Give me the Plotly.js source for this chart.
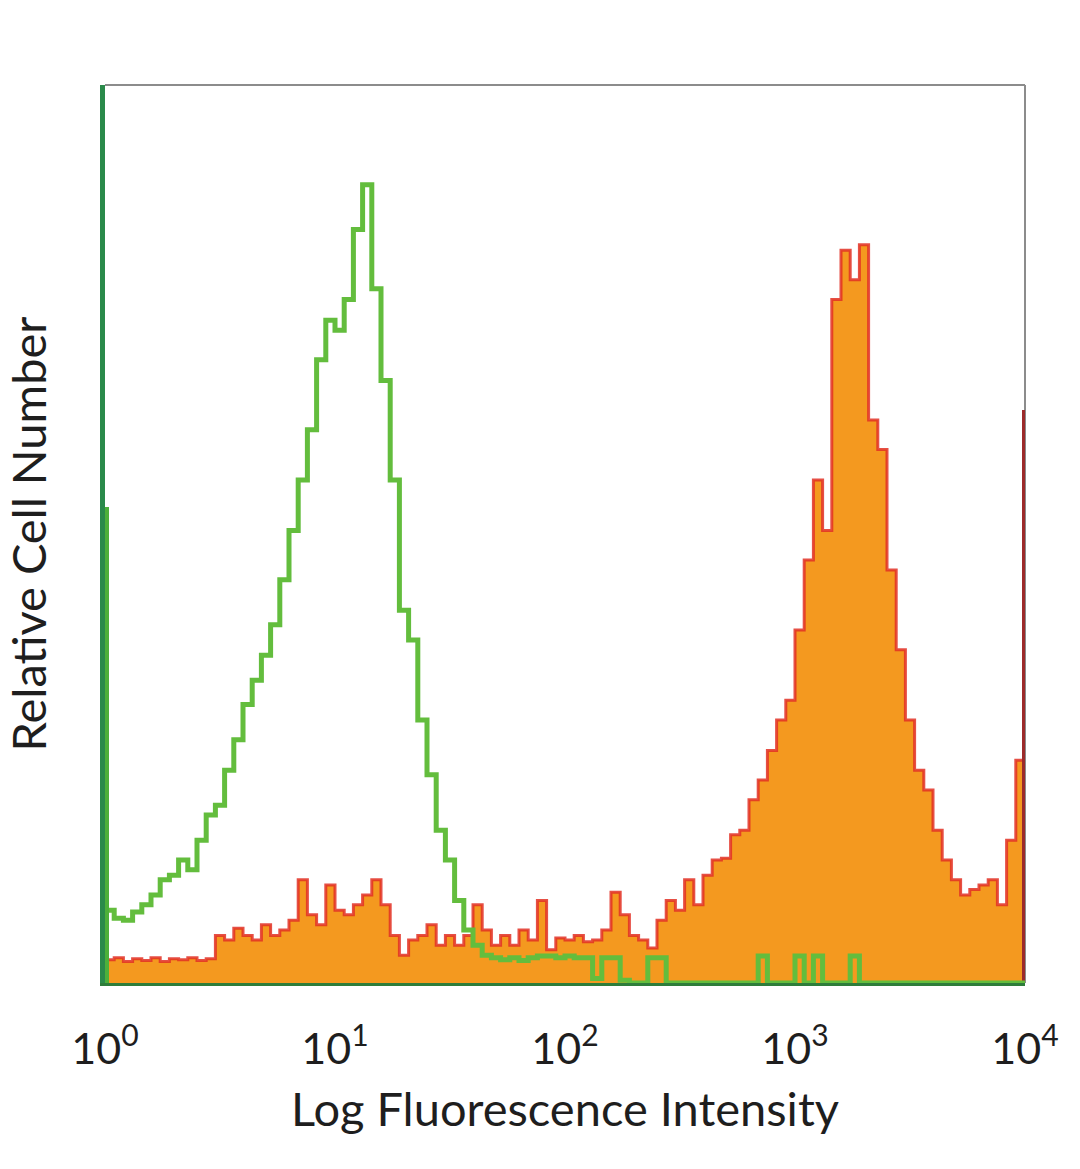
<!DOCTYPE html>
<html>
<head>
<meta charset="utf-8">
<script src="https://cdn.plot.ly/plotly-3.0.1.min.js"></script>
<style>
html,body{margin:0;padding:0;background:#fff;}
#chart{width:1080px;height:1169px;}
</style>
</head>
<body>
<div id="chart"></div>
<script>
// Histogram channels: 100 bins spread evenly over log10 intensity 0..4
const BIN_COUNT = 100;
const LOG_MIN = 0, LOG_MAX = 4;

// Isotype control (green outline), relative cell number per bin
const greenCounts = [
  8.1, 7.2, 7.0, 7.9, 8.7, 9.8, 11.5, 12.0, 13.7, 12.6,
  15.9, 18.7, 19.8, 23.7, 27.1, 31.0, 33.7, 36.5, 39.9, 44.9,
  50.4, 56.0, 61.6, 69.4, 73.8, 72.7, 76.1, 83.9, 88.9, 77.3,
  67.1, 56.0, 41.5, 38.2, 29.3, 23.2, 17.0, 13.7, 9.2, 5.9,
  4.2, 3.1, 2.8, 2.6, 2.8, 2.5, 2.8, 3.0, 3.0, 2.8,
  3.0, 2.8, 2.8, 0.5, 2.8, 2.8, 0.3, 0, 0, 2.8,
  2.8, 0, 0, 0, 0, 0, 0, 0, 0, 0,
  0, 3.0, 0, 0, 0, 3.0, 0, 3.0, 0, 0,
  0, 3.0, 0, 0, 0, 0, 0, 0, 0, 0,
  0, 0, 0, 0, 0, 0, 0, 0, 0, 0
];

// Stained sample (orange fill, red outline), relative cell number per bin
const stainedCounts = [
  2.6, 2.8, 2.4, 2.7, 2.5, 2.8, 2.4, 2.7, 2.6, 2.8,
  2.5, 2.7, 5.3, 4.8, 6.1, 5.3, 4.8, 6.5, 5.3, 5.9,
  7.0, 11.5, 7.6, 6.5, 10.9, 8.1, 7.6, 8.7, 9.8, 11.5,
  8.7, 5.3, 3.1, 4.8, 5.3, 6.5, 4.2, 5.3, 4.2, 5.3,
  8.7, 5.9, 4.2, 5.3, 4.2, 5.9, 4.8, 9.2, 3.7, 5.0,
  4.8, 5.3, 4.6, 4.8, 5.9, 10.1, 7.6, 5.3, 4.8, 3.9,
  7.0, 9.2, 8.1, 11.5, 8.7, 12.0, 13.7, 13.9, 16.5, 17.0,
  20.4, 22.6, 25.9, 29.3, 31.5, 39.3, 47.1, 56.0, 50.4, 76.1,
  81.6, 78.3, 82.2, 62.7, 59.4, 46.0, 37.1, 29.3, 23.7, 21.5,
  17.0, 13.7, 11.5, 9.8, 10.4, 10.9, 11.5, 8.7, 15.9, 24.8
];

// Events piled up at the scale limits
const greenOffScaleLow = 53;      // at 10^0
const stainedOffScaleHigh = 63.8; // at 10^4

const tickVals = [1, 10, 100, 1000, 10000];
const tickText = ['10<sup>0</sup>', '10<sup>1</sup>', '10<sup>2</sup>', '10<sup>3</sup>', '10<sup>4</sup>'];
const xTitle = 'Log Fluorescence Intensity';
const yTitle = 'Relative Cell Number';

function stepXY(counts) {
  const step = (LOG_MAX - LOG_MIN) / counts.length;
  const xs = [], ys = [];
  counts.forEach((c, i) => { xs.push(Math.pow(10, LOG_MIN + i * step)); ys.push(c); });
  xs.push(Math.pow(10, LOG_MAX));
  ys.push(counts[counts.length - 1]);
  return {x: xs, y: ys};
}

const st = stepXY(stainedCounts);
const gr = stepXY(greenCounts);

const traces = [
  {
    x: st.x, y: st.y, type: 'scatter', mode: 'lines',
    line: {shape: 'hv', color: 'rgba(226,48,36,0.85)', width: 3},
    fill: 'tozeroy', fillcolor: '#F4991F', hoverinfo: 'skip'
  },
  {
    x: [Math.pow(10, LOG_MAX), Math.pow(10, LOG_MAX)], y: [0, stainedOffScaleHigh],
    type: 'scatter', mode: 'lines', line: {color: '#9C2A2A', width: 6}, hoverinfo: 'skip'
  },
  {
    x: gr.x, y: gr.y, type: 'scatter', mode: 'lines',
    line: {shape: 'hv', color: '#63BD3D', width: 5}, hoverinfo: 'skip'
  },
  {
    x: [Math.pow(10, LOG_MIN), Math.pow(10, LOG_MIN)], y: [0, greenOffScaleLow],
    type: 'scatter', mode: 'lines', line: {color: '#4DB03A', width: 8}, hoverinfo: 'skip'
  }
];

const font = {family: 'Lato, "Open Sans", sans-serif', color: '#1e1e1e'};

const layout = {
  width: 1080, height: 1169,
  margin: {l: 105, r: 55, t: 85, b: 186},
  paper_bgcolor: '#ffffff', plot_bgcolor: '#ffffff',
  showlegend: false,
  xaxis: {
    type: 'log', range: [LOG_MIN, LOG_MAX],
    tickvals: tickVals, ticktext: tickText,
    ticks: '', showgrid: false, zeroline: false,
    showline: true, linecolor: '#2E7D3A', linewidth: 3, mirror: false,
    tickfont: Object.assign({}, font, {size: 43}),
    ticklabelstandoff: 26,
    title: {text: xTitle, font: Object.assign({}, font, {size: 47}), standoff: 22}
  },
  yaxis: {
    range: [0, 100], showticklabels: false, ticks: '', showgrid: false, zeroline: false,
    showline: true, linecolor: '#2A8A4A', linewidth: 5, mirror: false,
    title: {text: yTitle, font: Object.assign({}, font, {size: 47}), standoff: 42}
  },
  shapes: [
    {type: 'line', xref: 'paper', yref: 'paper', x0: 0, x1: 1, y0: 1, y1: 1, line: {color: '#8c8c8c', width: 2}},
    {type: 'line', xref: 'paper', yref: 'paper', x0: 1, x1: 1, y0: 0, y1: 1, line: {color: '#8c8c8c', width: 2}, layer: 'below'}
  ]
};

Plotly.newPlot('chart', traces, layout, {staticPlot: true, displayModeBar: false});
</script>
</body>
</html>
